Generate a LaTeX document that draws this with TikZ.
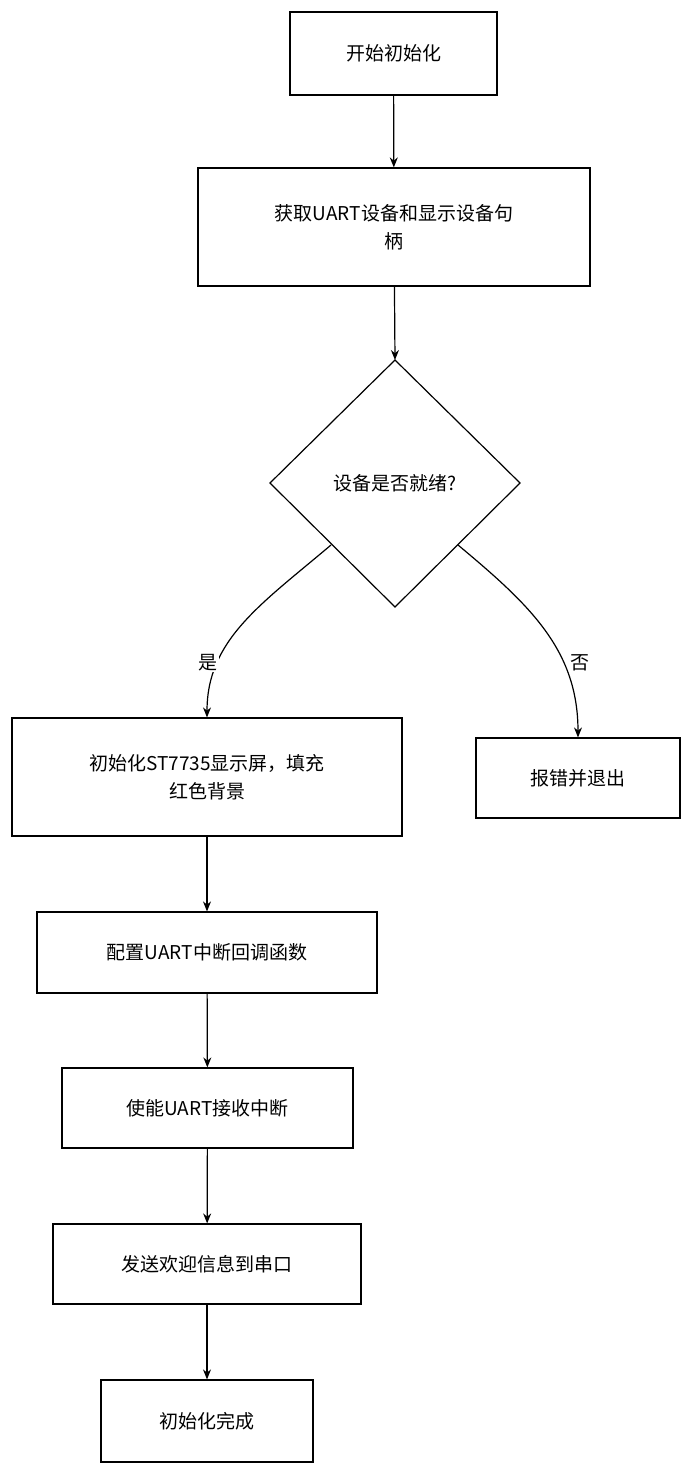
\documentclass[tikz,border=0pt]{standalone}
\usepackage{fontspec}
\setmainfont{Noto Sans CJK SC}
\usetikzlibrary{arrows.meta}
\begin{document}
\begin{tikzpicture}[x=1pt,y=-1pt,
 box/.style={draw,line width=1.2pt,minimum width=#1,align=center,font=\fontsize{19}{28}\selectfont},
 arr/.style={line width=1.2pt,-{Stealth[length=10pt,width=8pt]}},
 lab/.style={fill=white,inner sep=1pt,font=\fontsize{19}{24}\selectfont}]
\useasboundingbox (0,0) rectangle (699,1473);
\node[box=207pt,minimum height=83pt] (a) at (393.5,53.5) {开始初始化};
\node[box=392pt,minimum height=118pt] (b) at (394,227) {获取UART设备和显示设备句\\柄};
\draw[line width=1.2pt] (395,360) coordinate (dt) -- (520,483) coordinate (dr) -- (395,607) coordinate (db) -- (270,483) coordinate (dl) -- cycle;
\node[font=\fontsize{19}{24}\selectfont] (c) at (395,483) {设备是否就绪?};
\node[box=390pt,minimum height=118pt] (d) at (207,777) {初始化ST7735显示屏，填充\\红色背景};
\node[box=204pt,minimum height=80pt] (e) at (578,778) {报错并退出};
\node[box=340pt,minimum height=81pt] (f) at (207,952.5) {配置UART中断回调函数};
\node[box=291pt,minimum height=80pt] (g) at (207.5,1108) {使能UART接收中断};
\node[box=308pt,minimum height=80pt] (h) at (207,1264) {发送欢迎信息到串口};
\node[box=212pt,minimum height=82pt] (i) at (207,1421) {初始化完成};
\coordinate (l1) at (331,545);
\coordinate (r1) at (458,545);
\draw[arr] (a) -- (b);
\draw[arr] (b) -- (dt);
\draw[arr] (l1) .. controls (260,605) and (207,640) .. (d.north);
\draw[arr] (r1) .. controls (530,605) and (578,650) .. (e.north);
\node[lab] (ly) at (208,663) {是};
\node[lab] (ln) at (580,663) {否};
\draw[arr] (d) -- (f);
\draw[arr] (f) -- (g);
\draw[arr] (g) -- (h);
\draw[arr] (h) -- (i);
\end{tikzpicture}
\end{document}
